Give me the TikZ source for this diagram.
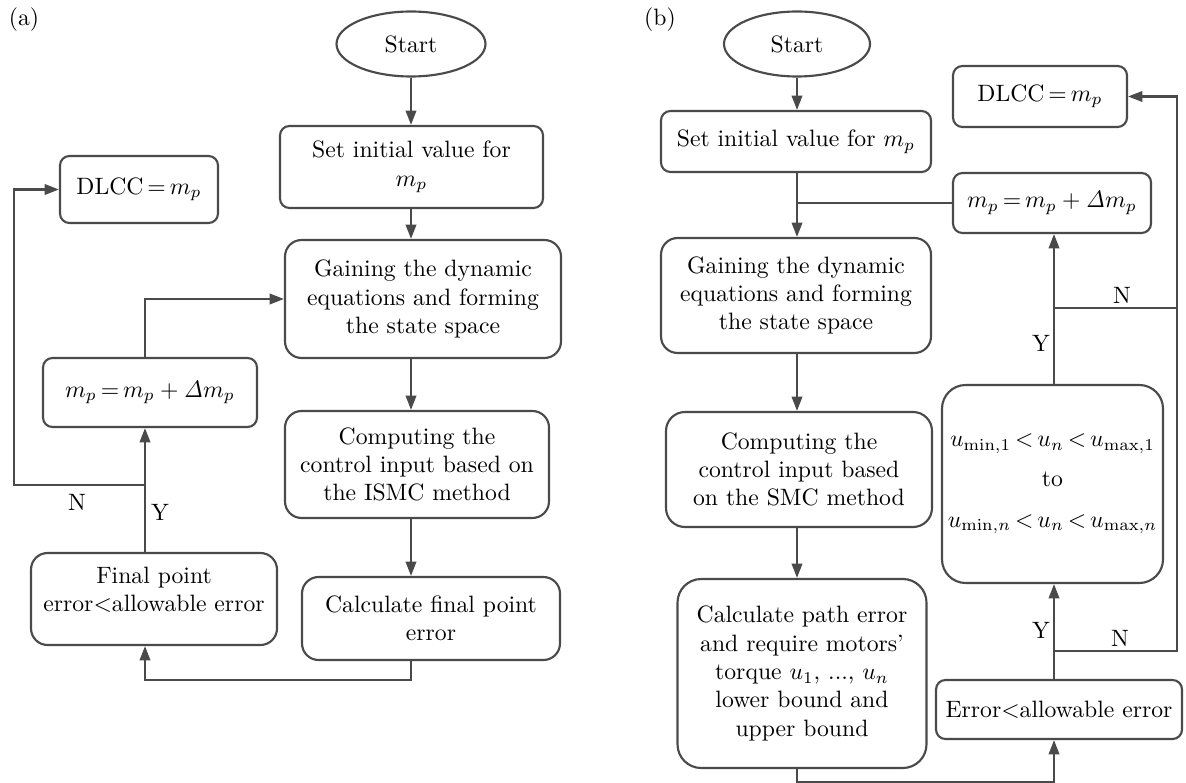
\documentclass[tikz,border=0pt]{standalone}
\usepackage{amsmath,amssymb}
\usepackage{tikz}
\usetikzlibrary{arrows.meta,shapes.geometric}
\definecolor{linegray}{HTML}{4a4a4a}
\begin{document}
\begin{tikzpicture}[x=0.01485cm,y=-0.01485cm,
 blk/.style={draw=linegray,line width=0.9pt,rounded corners=4pt,align=center,inner sep=0pt},
 bigblk/.style={blk,rounded corners=7pt},
 term/.style={draw=linegray,line width=0.9pt,ellipse,inner sep=0pt},
 sz/.style 2 args={minimum width=#1*0.01485cm,minimum height=#2*0.01485cm},
 arr/.style={draw=linegray,line width=0.9pt,-{Triangle[length=6pt,width=4.4pt]}},
 ln/.style={draw=linegray,line width=0.9pt}]
\thickmuskip=3mu plus 2mu
\useasboundingbox (0,0) rectangle (1186,783);
% (a)
\node at (24,20) {(a)};
\node[term,sz={149}{65}] (startA) at (411,44) {Start};
\node[blk,sz={263}{82}] (initA) at (411.5,167) {Set initial value for\\$m_p$};
\node[bigblk,sz={276}{118}] (gainA) at (423,299) {Gaining the dynamic\\equations and forming\\the state space};
\node[bigblk,sz={264}{107}] (compA) at (417,464.5) {Computing the\\control input based on\\the ISMC method};
\node[bigblk,sz={258}{83}] (calcA) at (431,618.5) {Calculate final point\\error};
\node[bigblk,sz={246}{92}] (finA) at (154,599) {Final point\\error$<$allowable error\\[-4pt]};
\node[blk,sz={214}{69}] (mpA) at (150,392.5) {$m_p=m_p+\mathit{\Delta}m_p$};
\node[blk,sz={158}{67}] (dlccA) at (139,189.5) {$\mathrm{DLCC}=m_p$};
\coordinate (colA) at (145,0);
\coordinate (jA) at (145,485);
\coordinate (nA) at (14,485);
\draw[arr] (startA.south) -- (startA.south |- initA.north);
\draw[arr] (initA.south -| startA.south) -- (gainA.north -| startA.south);
\draw[arr] (gainA.south -| startA.south) -- (compA.north -| startA.south);
\draw[arr] (compA.south -| startA.south) -- (calcA.north -| startA.south);
\draw[arr] (calcA.south -| startA.south) -- ++(0,19) -| (finA.south -| colA);
\draw[arr] (finA.north -| colA) -- (mpA.south -| colA);
\draw[arr] (jA) -- (nA) |- (dlccA.west);
\draw[arr] (mpA.north -| colA) |- (gainA.west);
\node at (77,502) {N};
\node at (160,512) {Y};
% (b)
\node at (660,20) {(b)};
\node[term,sz={146}{65}] (startB) at (797,44) {Start};
\node[blk,sz={270}{61}] (initB) at (796,141.5) {Set initial value for $m_p$};
\node[bigblk,sz={270}{115}] (gainB) at (796,295.5) {Gaining the dynamic\\equations and forming\\the state space};
\node[bigblk,rounded corners=8pt,sz={266}{115}] (compB) at (799,469.5) {Computing the\\control input based\\on the SMC method};
\node[blk,rounded corners=10pt,sz={249}{189}] (calcB) at (802,673.5) {Calculate path error\\and require motors'\\torque $u_1$, ..., $u_n$\\lower bound and\\upper bound};
\node[blk,sz={246}{59}] (errB) at (1059,709.5) {Error$<$allowable error};
\node[blk,rounded corners=10pt,sz={221}{198}] (uB) at (1052.5,484) {$u_{\min,1}<u_n<u_{\max,1}$\\[5pt]to\\[5pt]$u_{\min,n}<u_n<u_{\max,n}$};
\node[blk,sz={198}{60}] (mpB) at (1052,203) {$m_p=m_p+\mathit{\Delta}m_p$};
\node[blk,sz={174}{61}] (dlccB) at (1040,96.5) {$\mathrm{DLCC}=m_p$};
\coordinate (colB) at (1054,0);
\coordinate (jB1) at (1054,651);
\coordinate (jB2) at (1054,308);
\coordinate (rB1) at (1177,651);
\coordinate (rB2) at (1177,308);
\draw[arr] (startB.south) -- (startB.south |- initB.north);
\draw[arr] (initB.south -| startB.south) -- (gainB.north -| startB.south);
\draw[ln] (mpB.west) -- (mpB.west -| startB.south);
\draw[arr] (gainB.south -| startB.south) -- (compB.north -| startB.south);
\draw[arr] (compB.south -| startB.south) -- (calcB.north -| startB.south);
\draw[arr] (calcB.south -| startB.south) -- ++(0,13) -| (errB.south -| colB);
\draw[arr] (errB.north -| colB) -- (uB.south -| colB);
\draw[arr] (jB1) -- (rB1) |- (dlccB.east);
\draw[arr] (uB.north -| colB) -- (mpB.south -| colB);
\draw[ln] (jB2) -- (rB2);
\node at (1041,343) {Y};
\node at (1122,295) {N};
\node at (1041,630) {Y};
\node at (1120,638) {N};
\end{tikzpicture}
\end{document}
